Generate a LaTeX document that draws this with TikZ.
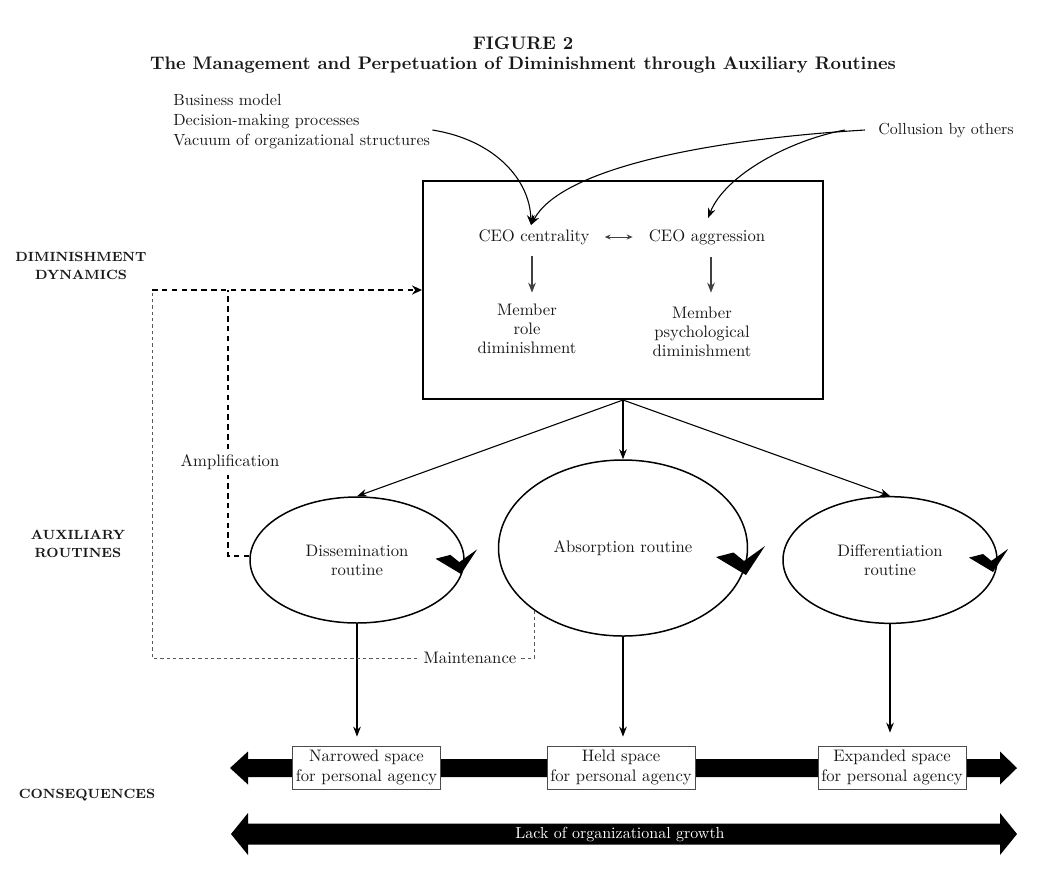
\documentclass[tikz,border=0pt]{standalone}
\usetikzlibrary{arrows.meta,shapes.geometric,calc}
\begin{document}
\begin{tikzpicture}[x=0.6pt,y=-0.6pt,
 every node/.style={inner sep=0pt},
 txt/.style={font=\fontsize{10}{11.5}\selectfont, align=center, text=black!90},
 lbl/.style={font=\fontsize{8}{11}\selectfont\bfseries, align=center, text=black!90},
 ttl/.style={font=\fontsize{10.9}{13}\selectfont\bfseries, text=black!90},
 arr/.style={-{Stealth[length=6pt,width=4.6pt]}, line width=0.65pt},
 garr/.style={arr, draw=black!75, fill=black!75},
 sarr/.style={{Stealth[length=3.5pt,width=3pt]}-{Stealth[length=3.5pt,width=3pt]}, line width=0.5pt, draw=black!75},
 ell/.style={ellipse, draw, line width=0.9pt, txt},
 cbox/.style={draw=black!70, line width=0.5pt, fill=white, txt, font=\fontsize{10}{12.3}\selectfont, inner xsep=2pt, minimum height=25.8pt},
 bigdash/.style={line width=0.75pt, dash pattern=on 3.3pt off 2.6pt},
 smalldash/.style={line width=0.55pt, draw=black!65, dash pattern=on 2pt off 1.8pt},
 chk/.pic={\fill (0,0) -- (-30,-18) -- (-12.5,-22.5) -- (-2,-14) -- (19,-29) -- cycle;}
]
\useasboundingbox (0,0) rectangle (1047,892);

% title
\node[ttl] (fig) at (523,43) {FIGURE 2};
\node[ttl] (sub) at (523,65) {The Management and Perpetuation of Diminishment through Auxiliary Routines};

% left labels
\node[lbl] (dd) at (81,266) {DIMINISHMENT\\DYNAMICS};
\node[lbl] (ar) at (78,544) {AUXILIARY\\ROUTINES};
\node[lbl] (cq) at (87,795) {CONSEQUENCES};

% context texts
\node[txt, anchor=west, align=left, font=\fontsize{9.7}{12}\selectfont] (ctx) at (173,122) {Business model\\Decision-making processes\\Vacuum of organizational structures};
\node[txt, anchor=west, font=\fontsize{9.6}{11}\selectfont] (coll) at (878,130) {Collusion by others};

% main box
\node[draw, line width=1.2pt, minimum width=240pt, minimum height=130.8pt] (box) at (623,290) {};
\node[txt] (cent) at (534,237) {CEO centrality};
\node[txt] (aggr) at (707,237) {CEO aggression};
\node[txt] (mrole) at (527,329) {Member\\role\\diminishment};
\node[txt] (mpsy) at (702,332) {Member\\psychological\\diminishment};
\draw[sarr] ($(cent.east)+(15,0)$) -- ($(aggr.west)+(-16,0)$);
\draw[garr] ($(cent.south)+(-2,11)$) -- ($(mrole.north)+(5,-11)$);
\draw[garr] ($(aggr.south)+(4,12)$) -- ($(mpsy.north)+(9,-14)$);

% curved influences
\coordinate (split) at (845,130);
\draw[arr] ($(ctx.east)+(2,8)$) .. controls (495,140) and (530,180) .. ($(cent.north)+(-3,-4)$);
\draw[arr] ($(coll.west)+(-13,0)$) .. controls (700,140) and (560,170) .. ($(cent.north)+(-3,-4)$);
\draw[arr] (split) .. controls (790,140) and (725,175) .. ($(aggr.north)+(1,-11)$);

% routines
\node[ell, minimum width=128.4pt, minimum height=75.6pt] (diss) at (357,560) {Dissemination\\routine};
\node[ell, minimum width=149.4pt, minimum height=105.6pt] (abs) at (623,548) {Absorption routine};
\node[ell, minimum width=128.4pt, minimum height=76pt] (diff) at (890,560) {Differentiation\\routine};
\pic[scale=0.85] at (461,574) {chk};
\pic at (746,575) {chk};
\pic[scale=0.8] at (993,572) {chk};

\draw[arr] (box.south) -- (diss.north);
\draw[arr] (box.south) -- (abs.north);
\draw[arr] (box.south) -- (diff.north);

% consequence bars
\fill (230,768) -- (248,751.5) -- (248,759) -- (1000,759) -- (1000,751.5) -- (1017,768) -- (1000,784.5) -- (1000,777) -- (248,777) -- (248,784.5) -- cycle;
\fill (231,834) -- (248,813) -- (248,823.5) -- (1000,823.5) -- (1000,813) -- (1017,834) -- (1000,855) -- (1000,844.5) -- (248,844.5) -- (248,855) -- cycle;
\node[txt, text=white, font=\fontsize{9.6}{11}\selectfont] (lack) at (620,834) {Lack of organizational growth};

\node[cbox] (narrow) at (366.5,767.5) {Narrowed space\\for personal agency};
\node[cbox] (held) at (621,767.5) {Held space\\for personal agency};
\node[cbox] (expand) at (892,767.5) {Expanded space\\for personal agency};

\draw[arr] (diss.south) -- ($(diss.south |- narrow.north)+(0,-9)$);
\draw[arr] (abs.south) -- ($(abs.south |- held.north)+(0,-9)$);
\draw[arr] (diff.south) -- ($(diff.south |- expand.north)+(0,-13)$);

% feedback loops
\coordinate (ampc) at (228,556);
\coordinate (mtop) at (152,290);
\coordinate (mbot) at (152,658);
\draw[bigdash] (diss.west |- ampc) -- (ampc) -- (ampc |- box.west);
\draw[bigdash, -{Stealth[length=6pt,width=5.5pt]}] (mtop) -- (box.west);
\draw[smalldash] (abs.south west) |- (mbot) -- (mtop);
\node[txt, fill=white, inner xsep=2pt, inner ysep=3pt] (amp) at (230,462) {Amplification};
\node[txt, fill=white, inner xsep=2pt, inner ysep=1pt] (maint) at (470,658) {Maintenance};
\end{tikzpicture}
\end{document}
